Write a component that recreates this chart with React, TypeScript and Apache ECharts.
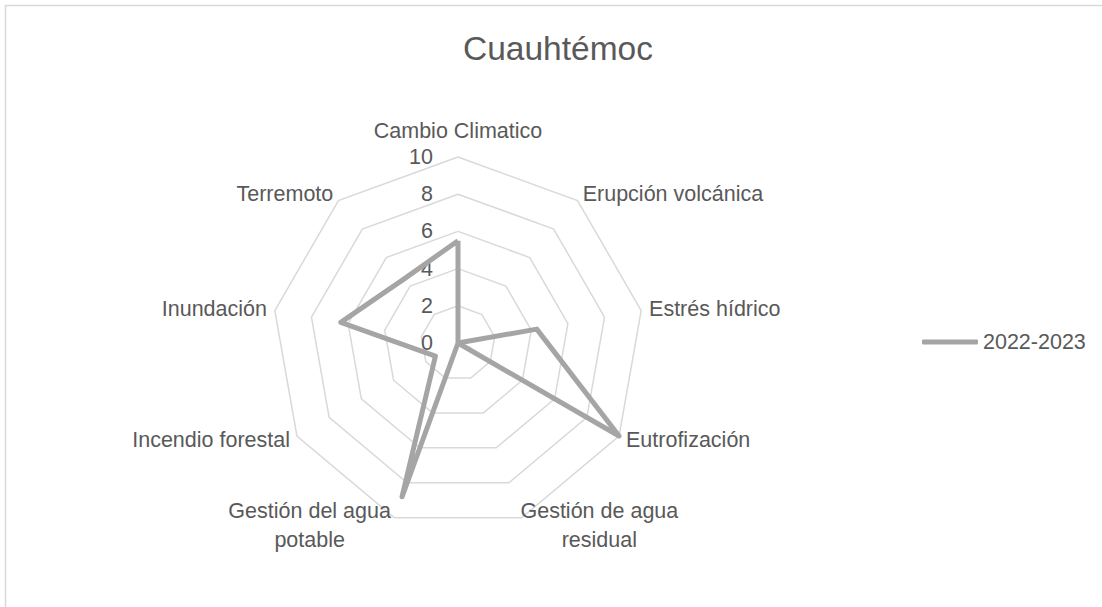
import React, { useEffect, useRef } from "react";
import * as echarts from "echarts";

const title = "Cuauhtémoc";
const seriesName = "2022-2023";
const categories = [
  "Cambio Climatico",
  "Erupción volcánica",
  "Estrés hídrico",
  "Eutrofización",
  "Gestión de agua residual",
  "Gestión del agua potable",
  "Incendio forestal",
  "Inundación",
  "Terremoto",
];
const values = [5.5, 0, 4.3, 10, 0, 8.8, 1.4, 6.4, 4.5];
const axisMin = 0;
const axisMax = 10;
const axisStep = 2;

const FONT = "Liberation Sans, Arial, sans-serif";
const TEXT = "#595959";
const GRID = "#d9d9d9";
const LINE = "#a5a5a5";

export default function App() {
  const ref = useRef<HTMLDivElement>(null);
  useEffect(() => {
    if (!ref.current) return;
    const chart = echarts.init(ref.current, null, { renderer: "svg" });
    // ECharts radar runs counter-clockwise; reorder so that it runs clockwise like the reference
    const order = [0, ...categories.map((_, i) => i).slice(1).reverse()];
    const indicators = order.map((i) => ({ name: categories[i], min: axisMin, max: axisMax }));
    const data = order.map((i) => values[i]);
    const cx = 458;
    const cy = 343;
    const r = 186;
    chart.setOption({
      animation: false,
      backgroundColor: "#ffffff",
      title: {
        text: title,
        left: 463,
        top: 31,
        padding: 0,
        textStyle: { color: TEXT, fontSize: 33.5, fontWeight: "normal", fontFamily: FONT },
      },
      legend: {
        data: [seriesName],
        left: 917,
        top: 326,
        icon: "roundRect",
        itemWidth: 56,
        itemHeight: 5,
        textStyle: { color: TEXT, fontSize: 21.5, fontFamily: FONT },
      },
      graphic: [
        {
          type: "rect",
          shape: { x: 5.5, y: 5.5, width: 1200, height: 800 },
          style: { fill: "none", stroke: GRID, lineWidth: 1.5 },
          silent: true,
        },
      ],
      radar: {
        center: [cx, cy],
        radius: r,
        startAngle: 90,
        splitNumber: (axisMax - axisMin) / axisStep,
        shape: "polygon",
        nameGap: 8,
        indicator: indicators,
        axisName: {
          color: TEXT,
          fontSize: 21.5,
          fontFamily: FONT,
          formatter: (name: string) => {
            if (name === categories[0]) return `{top|${name}}`;
            if (name.length > 18) {
              const k = name.lastIndexOf(" ");
              const tag = name.includes("potable") ? "p" : "q";
              return `{${tag}|${name.slice(0, k)}}\n{${tag}|${name.slice(k + 1)}}`;
            }
            return name;
          },
          rich: {
            top: { color: TEXT, fontSize: 21.5, fontFamily: FONT, padding: [0, 0, 7, 0] },
            p: { color: TEXT, fontSize: 21.5, fontFamily: FONT, width: 164, align: "center", lineHeight: 29 },
            q: { color: TEXT, fontSize: 21.5, fontFamily: FONT, width: 150, align: "center", lineHeight: 29 },
          },
        },
        axisLine: { show: false },
        axisTick: { show: false },
        axisLabel: { show: false },
        splitArea: { show: false },
        splitLine: { lineStyle: { color: GRID, width: 1.5 } },
      },
      polar: { center: [cx, cy], radius: r },
      angleAxis: { show: false, startAngle: 90, min: 0, max: 360 },
      radiusAxis: {
        min: axisMin,
        max: axisMax,
        interval: axisStep,
        axisLine: { show: false },
        axisTick: { show: false },
        splitLine: { show: false },
        axisLabel: { show: true, margin: 25, color: TEXT, fontSize: 21.5, fontFamily: FONT },
        z: 1,
      },
      series: [
        {
          type: "radar",
          symbol: "none",
          z: 5,
          lineStyle: { color: LINE, width: 5 },
          itemStyle: { color: LINE },
          data: [{ name: seriesName, value: data }],
        },
      ],
    });
    return () => chart.dispose();
  }, []);
  return (
    <div
      ref={ref}
      style={{ position: "fixed", left: 0, top: 0, width: 1102, height: 607, background: "#fff" }}
    />
  );
}
